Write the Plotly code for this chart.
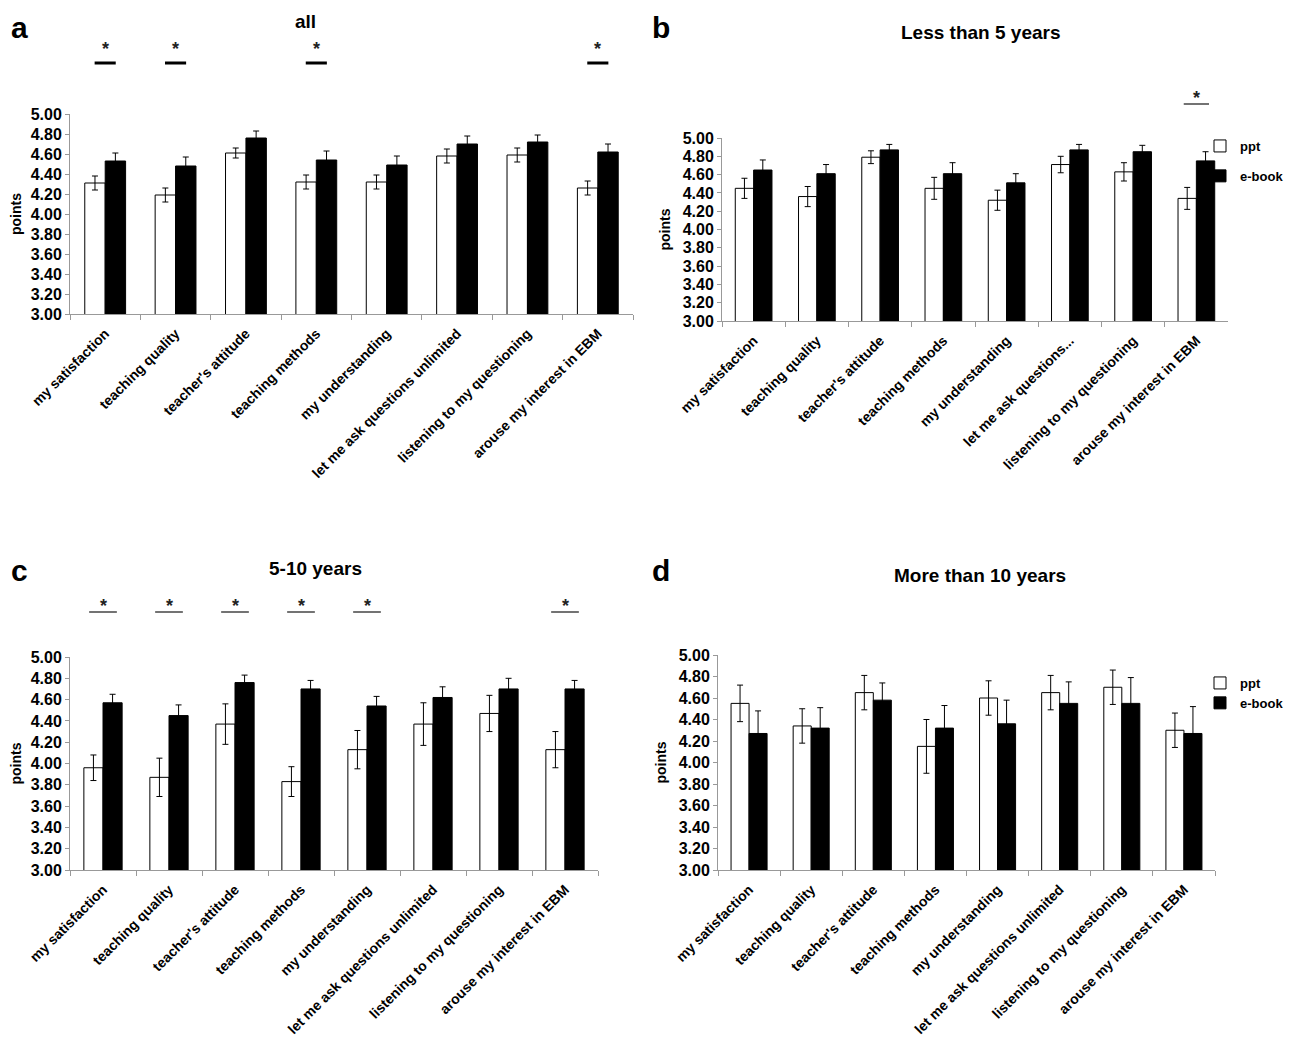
import plotly.graph_objects as go
from plotly.subplots import make_subplots

categories = ["my satisfaction", "teaching quality", "teacher's attitude", "teaching methods",
              "my understanding", "let me ask questions unlimited", "listening to my questioning",
              "arouse my interest in EBM"]
categories_b = ["my satisfaction", "teaching quality", "teacher's attitude", "teaching methods",
                "my understanding", "let me ask questions...", "listening to my questioning",
                "arouse my interest in EBM"]
y_ticks = [3.0, 3.2, 3.4, 3.6, 3.8, 4.0, 4.2, 4.4, 4.6, 4.8, 5.0]

# panel a: all
a_ppt = [4.31, 4.19, 4.61, 4.32, 4.32, 4.58, 4.59, 4.26]
a_ppt_err = [0.07, 0.07, 0.05, 0.07, 0.07, 0.07, 0.07, 0.07]
a_ebook = [4.53, 4.48, 4.76, 4.54, 4.49, 4.70, 4.72, 4.62]
a_ebook_err = [0.08, 0.09, 0.07, 0.09, 0.09, 0.08, 0.07, 0.08]
a_sig = [0, 1, 3, 7]

# panel b: less than 5 years
b_ppt = [4.45, 4.36, 4.79, 4.45, 4.32, 4.71, 4.63, 4.34]
b_ppt_err = [0.11, 0.11, 0.07, 0.12, 0.11, 0.09, 0.10, 0.12]
b_ebook = [4.65, 4.61, 4.87, 4.61, 4.51, 4.87, 4.85, 4.75]
b_ebook_err = [0.11, 0.10, 0.06, 0.12, 0.10, 0.06, 0.07, 0.10]
b_sig = [7]

# panel c: 5-10 years
c_ppt = [3.96, 3.87, 4.37, 3.83, 4.13, 4.37, 4.47, 4.13]
c_ppt_err = [0.12, 0.18, 0.19, 0.14, 0.18, 0.20, 0.17, 0.17]
c_ebook = [4.57, 4.45, 4.76, 4.70, 4.54, 4.62, 4.70, 4.70]
c_ebook_err = [0.08, 0.10, 0.07, 0.08, 0.09, 0.10, 0.10, 0.08]
c_sig = [0, 1, 2, 3, 4, 7]

# panel d: more than 10 years
d_ppt = [4.55, 4.34, 4.65, 4.15, 4.60, 4.65, 4.70, 4.30]
d_ppt_err = [0.17, 0.16, 0.16, 0.25, 0.16, 0.16, 0.16, 0.16]
d_ebook = [4.27, 4.32, 4.58, 4.32, 4.36, 4.55, 4.55, 4.27]
d_ebook_err = [0.21, 0.19, 0.16, 0.21, 0.22, 0.20, 0.24, 0.25]
d_sig = []

titles = ["all", "Less than 5 years", "5-10 years", "More than 10 years"]
letters = ["a", "b", "c", "d"]

# page body has an 8px margin; figure is sized to fit the window inside it
OFF = 8
W, H = 1295 - 2 * OFF, 1062 - 2 * OFF
FONT = "Liberation Sans"


def px_x(p):
    return (p - OFF) / W


def px_y(p):
    return 1 - (p - OFF) / H


def bold(s):
    return "<b>" + s + "</b>"


panels = [
    dict(row=1, col=1, cats=categories, ppt=a_ppt, ppt_err=a_ppt_err, eb=a_ebook, eb_err=a_ebook_err,
         sig=a_sig, xd=(70, 633), yd=(314, 114), legend=None, sig_line=63, sig_star=61, sig_w=3,
         sig_half=0.15, sig_col="black", title_y=22, title_x=305, letter=(9, 9)),
    dict(row=1, col=2, cats=categories_b, ppt=b_ppt, ppt_err=b_ppt_err, eb=b_ebook, eb_err=b_ebook_err,
         sig=b_sig, xd=(722, 1228), yd=(321, 138), legend="legend", sig_line=104, sig_star=110, sig_w=1.5,
         sig_half=0.2, sig_col="#444", title_y=32, title_x=980, letter=(650, 9)),
    dict(row=2, col=1, cats=categories, ppt=c_ppt, ppt_err=c_ppt_err, eb=c_ebook, eb_err=c_ebook_err,
         sig=c_sig, xd=(70, 598), yd=(870, 657), legend=None, sig_line=612, sig_star=618, sig_w=1.5,
         sig_half=0.21, sig_col="#444", title_y=568, title_x=315, letter=(9, 552)),
    dict(row=2, col=2, cats=categories, ppt=d_ppt, ppt_err=d_ppt_err, eb=d_ebook, eb_err=d_ebook_err,
         sig=d_sig, xd=(718, 1215), yd=(870, 655), legend="legend2", sig_line=0, sig_star=0, sig_w=1,
         sig_half=0.2, sig_col="#444", title_y=575, title_x=980, letter=(650, 552)),
]

fig = make_subplots(rows=2, cols=2)

annotations = []
shapes = []
for k, p in enumerate(panels):
    show = p["legend"] is not None
    leg = p["legend"] if show else "legend"
    fig.add_trace(go.Bar(
        x=p["cats"], y=p["ppt"], name=bold("ppt"), showlegend=show, legend=leg,
        legendgroup=("g1" if k == 1 else None),
        marker=dict(color="white", line=dict(color="black", width=1)),
        error_y=dict(type="data", array=p["ppt_err"], color="black", thickness=1, width=3),
    ), row=p["row"], col=p["col"])
    fig.add_trace(go.Bar(
        x=p["cats"], y=p["eb"], name=bold("e-book"), showlegend=show, legend=leg,
        legendgroup=("g2" if k == 1 else None),
        marker=dict(color="black", line=dict(color="black", width=1)),
        error_y=dict(type="data", array=p["eb_err"], color="black", thickness=1, width=3),
    ), row=p["row"], col=p["col"])

    xa = "xaxis" if k == 0 else f"xaxis{k+1}"
    ya = "yaxis" if k == 0 else f"yaxis{k+1}"
    xref = "x" if k == 0 else f"x{k+1}"
    fig.layout[xa].update(
        domain=[px_x(p["xd"][0]), px_x(p["xd"][1])], automargin=False,
        type="category", tickson="boundaries", ticks="outside", ticklen=5, tickcolor="#999",
        tickvals=p["cats"], ticktext=[bold(c) for c in p["cats"]], ticklabelstandoff=5,
        showline=True, linecolor="#999", linewidth=1, tickangle=-45,
        tickfont=dict(family=FONT, size=14, color="black"),
        showgrid=False, zeroline=False, fixedrange=True,
    )
    fig.layout[ya].update(
        domain=[px_y(p["yd"][0]), px_y(p["yd"][1])], automargin=False,
        range=[3, 5], tickvals=y_ticks, ticktext=[bold(f"{v:.2f}") for v in y_ticks],
        ticks="outside", ticklen=4, tickcolor="#999",
        showline=True, linecolor="#999", linewidth=1, showgrid=False, zeroline=False,
        tickfont=dict(family=FONT, size=16, color="black"),
        title=dict(text=bold("points"), font=dict(family=FONT, size=14, color="black"), standoff=8),
    )

    for i in p["sig"]:
        shapes.append(dict(type="line", xref=xref, yref="paper",
                           x0=i - p["sig_half"], x1=i + p["sig_half"],
                           y0=px_y(p["sig_line"]), y1=px_y(p["sig_line"]),
                           line=dict(color=p["sig_col"], width=p["sig_w"])))
        annotations.append(dict(x=p["cats"][i], xref=xref, yref="paper", y=px_y(p["sig_star"]),
                                yanchor="bottom", text=bold("*"), showarrow=False,
                                font=dict(family=FONT, size=18, color="#222")))

    annotations.append(dict(x=px_x(p["title_x"]), y=px_y(p["title_y"]), xref="paper", yref="paper",
                            xanchor="center", yanchor="middle", text=bold(titles[k]), showarrow=False,
                            font=dict(family=FONT, size=19, color="black")))
    annotations.append(dict(x=px_x(p["letter"][0]), y=px_y(p["letter"][1]), xref="paper", yref="paper",
                            xanchor="left", yanchor="top", text=bold(letters[k]), showarrow=False,
                            font=dict(family=FONT, size=30, color="black")))

fig.update_layout(
    width=W, height=H,
    margin=dict(l=0, r=0, t=0, b=0, autoexpand=False),
    paper_bgcolor="white", plot_bgcolor="white",
    barmode="group", bargap=0.42, bargroupgap=0,
    font=dict(family=FONT, color="black"),
    annotations=annotations, shapes=shapes,
    legend=dict(x=px_x(1200), y=px_y(131), xanchor="left", yanchor="top", tracegroupgap=10,
                font=dict(family=FONT, size=13, color="black"),
                bgcolor="rgba(0,0,0,0)", itemclick=False),
    legend2=dict(x=px_x(1200), y=px_y(668), xanchor="left", yanchor="top",
                 font=dict(family=FONT, size=13, color="black"),
                 bgcolor="rgba(0,0,0,0)", itemclick=False),
)

fig.write_html("out.html")
